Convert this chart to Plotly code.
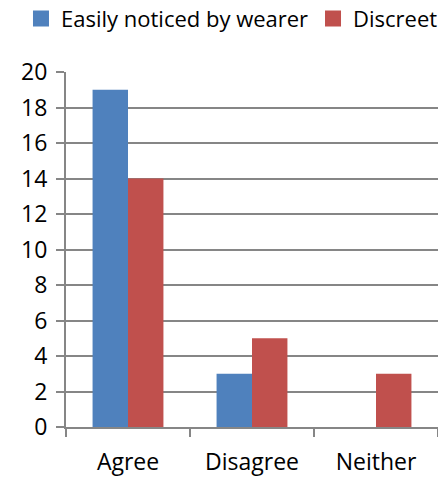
import plotly.graph_objects as go

categories = ["Agree", "Disagree", "Neither"]
series_names = ["Easily noticed by wearer", "Discreet"]
easily_noticed = [19, 3, 0]
discreet = [14, 5, 3]
y_ticks = list(range(0, 21, 2))

colors = ["#4F81BD", "#C0504D"]
font_family = "Open Sans, Liberation Sans, Arial, sans-serif"
axis_gray = "#868686"

fig = go.Figure()
for name, vals, c in zip(series_names, [easily_noticed, discreet], colors):
    fig.add_trace(go.Bar(x=categories, y=vals, name=name, showlegend=False,
                         marker=dict(color=c, line=dict(width=0))))
# legend entries with larger square swatches, one legend box per series so nothing wraps
for name, c, lg in zip(series_names, colors, ["legend", "legend2"]):
    fig.add_trace(go.Scatter(x=[None], y=[None], mode="markers", name=name, legend=lg,
                             marker=dict(symbol="square", size=16, color=c), hoverinfo="skip"))

legend_common = dict(orientation="h", xref="paper", yref="paper", xanchor="left",
                     y=1.150, yanchor="middle", font=dict(size=22), itemwidth=30,
                     bgcolor="rgba(0,0,0,0)")

# page body has an 8px default margin, so the figure is 8px smaller than the window
fig.update_layout(
    width=438, height=469,
    margin=dict(l=58, r=8, t=64, b=50, autoexpand=False),
    paper_bgcolor="white", plot_bgcolor="white",
    barmode="group", bargap=0.4286, bargroupgap=0,
    font=dict(family=font_family, size=23, color="#000000"),
    legend=dict(x=-0.121, **legend_common),
    legend2=dict(x=0.664, **legend_common),
    showlegend=True,
)
fig.update_xaxes(
    showline=True, linecolor=axis_gray, linewidth=2,
    ticks="outside", tickson="boundaries", ticklen=8, tickwidth=2, tickcolor=axis_gray,
    tickfont=dict(size=23), ticklabelstandoff=13,
    showgrid=False,
)
fig.update_yaxes(
    range=[0, 20], tickvals=y_ticks,
    showline=True, linecolor=axis_gray, linewidth=2,
    ticks="outside", ticklen=8, tickwidth=2, tickcolor=axis_gray,
    showgrid=True, gridcolor=axis_gray, gridwidth=2,
    tickfont=dict(size=23), ticklabelstandoff=4,
    zeroline=False,
)
fig.write_html("out.html")
